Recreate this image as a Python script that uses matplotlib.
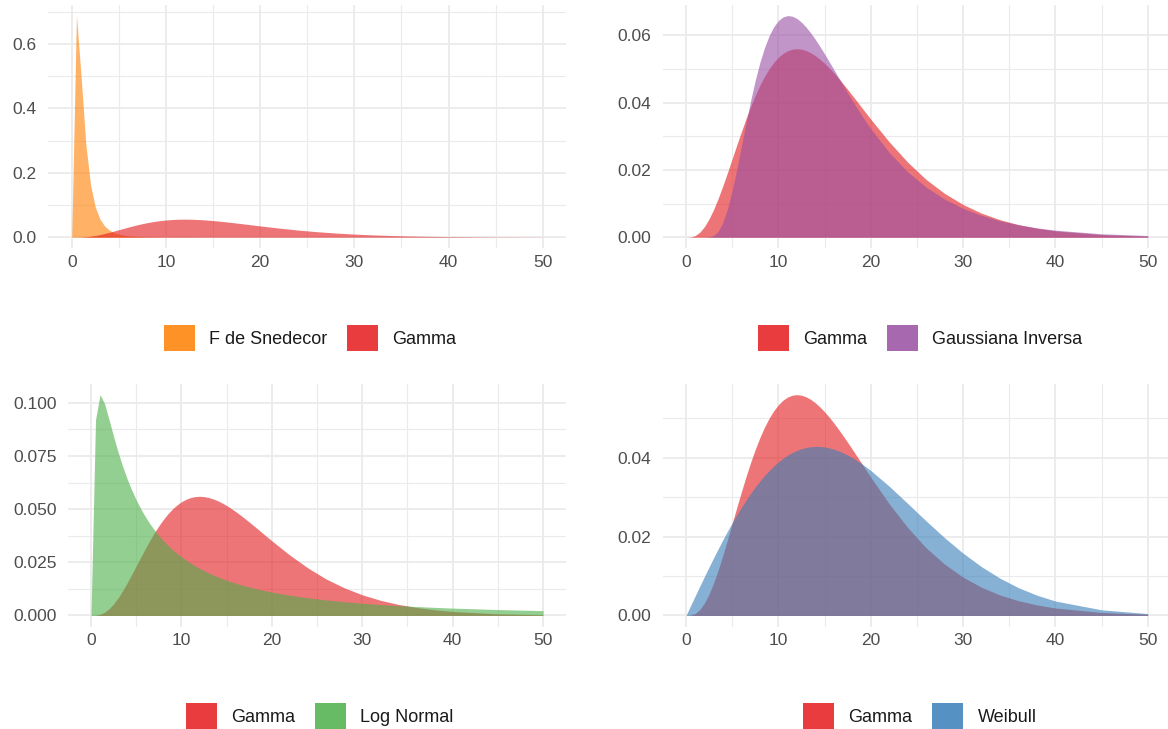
import matplotlib.pyplot as plt
from matplotlib.patches import Patch
from matplotlib.ticker import FixedLocator, AutoMinorLocator, FormatStrFormatter

plt.rcParams['font.family'] = ['Liberation Sans', 'DejaVu Sans']

# x positions where the densities were evaluated
x_vals = [0, 0.5, 1, 1.5, 2, 2.5, 3, 3.5, 4, 4.5,
          5, 5.5, 6, 6.5, 7, 7.5, 8, 8.5, 9, 9.5,
          10, 10.5, 11, 11.5, 12, 12.5, 13, 13.5, 14, 14.5,
          15, 15.5, 16, 16.5, 17, 17.5, 18, 18.5, 19, 19.5,
          20, 22, 24, 26, 28, 30, 32, 34, 36, 38, 40, 45, 50]

gamma = [0, 0.00007, 0.00051, 0.00151, 0.00316, 0.00545, 0.00830, 0.01164, 0.01533, 0.01926,
         0.02332, 0.02739, 0.03137, 0.03521, 0.03881, 0.04212, 0.04511, 0.04775, 0.05002, 0.05192,
         0.05344, 0.05460, 0.05540, 0.05586, 0.05601, 0.05587, 0.05546, 0.05481, 0.05395, 0.05289,
         0.05168, 0.05032, 0.04884, 0.04727, 0.04562, 0.04392, 0.04218, 0.04041, 0.03863, 0.03686,
         0.03510, 0.02835, 0.02232, 0.01716, 0.01303, 0.00972, 0.00715, 0.00519, 0.00374, 0.00268,
         0.00189, 0.00077, 0.00030]

f_snedecor = [0, 0.688, 0.4956, 0.2865, 0.1620, 0.0936, 0.0558, 0.0344, 0.0219, 0.0143,
              0.00963, 0.00662, 0.00465, 0.00333, 0.00242, 0.00179, 0.00134, 0.00102, 0.00078, 0.00061,
              0.00048, 0.00038, 0.0003, 0.00024, 0.0002, 0.00016, 0.00013, 0.00011, 0.00009, 0.00008,
              0.000065, 0.00006, 0.00005, 0.000045, 0.00004, 0.000035, 0.00003, 0.000025, 0.00002, 0.000017,
              0.000014, 0.00001, 0.000007, 0.000005, 0.000004, 0.000003, 0.000002, 0.000002, 0.000001, 0.000001,
              0.000001, 0, 0]

gauss_inv = [0, 0, 0, 0, 0.00001, 0.00009, 0.00054, 0.00184, 0.00443, 0.00849,
             0.01386, 0.02019, 0.02703, 0.03395, 0.04056, 0.04661, 0.05189, 0.05631, 0.05985, 0.06252,
             0.06435, 0.06543, 0.06585, 0.06567, 0.06500, 0.06389, 0.06244, 0.06072, 0.05879, 0.05669,
             0.05448, 0.05219, 0.04987, 0.04753, 0.04520, 0.04290, 0.04064, 0.03845, 0.03632, 0.03426,
             0.03228, 0.02520, 0.01945, 0.01488, 0.01133, 0.00858, 0.00649, 0.00489, 0.00369, 0.00277,
             0.00209, 0.00102, 0.00050]

log_normal = [0, 0.0920, 0.1038, 0.0996, 0.0920, 0.0841, 0.0767, 0.0701, 0.0642, 0.0590,
              0.0543, 0.0502, 0.0465, 0.0432, 0.0403, 0.0376, 0.0352, 0.0330, 0.0310, 0.0292,
              0.0276, 0.02605, 0.02465, 0.02336, 0.02217, 0.02106, 0.02004, 0.01908, 0.01819, 0.01737,
              0.01659, 0.01587, 0.01519, 0.01455, 0.01395, 0.01339, 0.01285, 0.01235, 0.01188, 0.01143,
              0.01101, 0.00952, 0.00831, 0.00730, 0.00647, 0.00576, 0.00515, 0.00463, 0.00419, 0.00380,
              0.00346, 0.00277, 0.00226]

weibull = [0, 0.0025, 0.00499, 0.00746, 0.0099, 0.0123, 0.01467, 0.01697, 0.01922, 0.02139,
           0.02349, 0.02550, 0.02742, 0.02924, 0.03097, 0.03258, 0.03409, 0.03548, 0.03675, 0.03791,
           0.03894, 0.03985, 0.04066, 0.04131, 0.04186, 0.04229, 0.04261, 0.04280, 0.04288, 0.04286,
           0.04274, 0.04251, 0.04218, 0.04177, 0.04125, 0.04069, 0.04004, 0.03931, 0.03853, 0.03768,
           0.03679, 0.03280, 0.02843, 0.02399, 0.01972, 0.01581, 0.01237, 0.00945, 0.00705, 0.00514,
           0.00366, 0.00143, 0.00048]

colors = {
    'F de Snedecor': '#FF7F00',
    'Gamma': '#E41A1C',
    'Gaussiana Inversa': '#984EA3',
    'Log Normal': '#4DAF4A',
    'Weibull': '#377EB8',
}

x_ticks = [0, 10, 20, 30, 40, 50]

# one entry per panel: series drawn in order, y ticks, tick format
panels = [
    ([('F de Snedecor', f_snedecor), ('Gamma', gamma)], [0, 0.2, 0.4, 0.6], '%.1f'),
    ([('Gamma', gamma), ('Gaussiana Inversa', gauss_inv)], [0, 0.02, 0.04, 0.06], '%.2f'),
    ([('Gamma', gamma), ('Log Normal', log_normal)], [0, 0.025, 0.05, 0.075, 0.1], '%.3f'),
    ([('Gamma', gamma), ('Weibull', weibull)], [0, 0.02, 0.04], '%.2f'),
]

# panel boxes in pixels: left, right, top, bottom
W, H = 1168, 729
boxes = [
    (48.2, 566.3, 4.5, 248.3),
    (662.9, 1170.8, 4.5, 248.3),
    (68.4, 565.6, 383.6, 626.5),
    (662.9, 1170.8, 383.6, 626.5),
]
legend_y = [338, 338, 716, 716]

fig = plt.figure(figsize=(W / 100, H / 100), dpi=100)

for (series, y_ticks, fmt), (l, r, t, b), ly in zip(panels, boxes, legend_y):
    ax = fig.add_axes([l / W, 1 - b / H, (r - l) / W, (b - t) / H])

    for name, ys in series:
        ax.fill_between(x_vals, ys, 0, color=colors[name], alpha=0.6, linewidth=0)

    xmin, xmax = min(x_vals), max(x_vals)
    ymax = max(max(ys) for _, ys in series)
    ax.set_xlim(xmin - 0.05 * (xmax - xmin), xmax + 0.05 * (xmax - xmin))
    ax.set_ylim(-0.05 * ymax, 1.05 * ymax)

    ax.xaxis.set_major_locator(FixedLocator(x_ticks))
    ax.yaxis.set_major_locator(FixedLocator(y_ticks))
    ax.yaxis.set_major_formatter(FormatStrFormatter(fmt))
    ax.xaxis.set_minor_locator(AutoMinorLocator(2))
    ax.yaxis.set_minor_locator(AutoMinorLocator(2))

    ax.grid(True, which='major', color='#EBEBEB', linewidth=1.3)
    ax.grid(True, which='minor', color='#EBEBEB', linewidth=0.8)
    ax.set_axisbelow(True)
    for s in ax.spines.values():
        s.set_visible(False)
    ax.tick_params(which='both', length=0, labelsize=12.5, labelcolor='#4D4D4D')
    ax.tick_params(axis='y', pad=8.5)
    ax.tick_params(axis='x', pad=5)

    handles = [Patch(facecolor=colors[name], alpha=0.85, linewidth=0) for name, _ in series]
    labels = [name for name, _ in series]
    cx = (l + r) / 2 + 3
    fig.legend(handles, labels, loc='center', bbox_to_anchor=(cx / W, 1 - ly / H),
               ncol=2, frameon=False, fontsize=13, labelcolor='#1A1A1A',
               handlelength=1.72, handleheight=1.84, handletextpad=0.78,
               columnspacing=1.11, borderpad=0)

fig.savefig('out.png', dpi=100)
